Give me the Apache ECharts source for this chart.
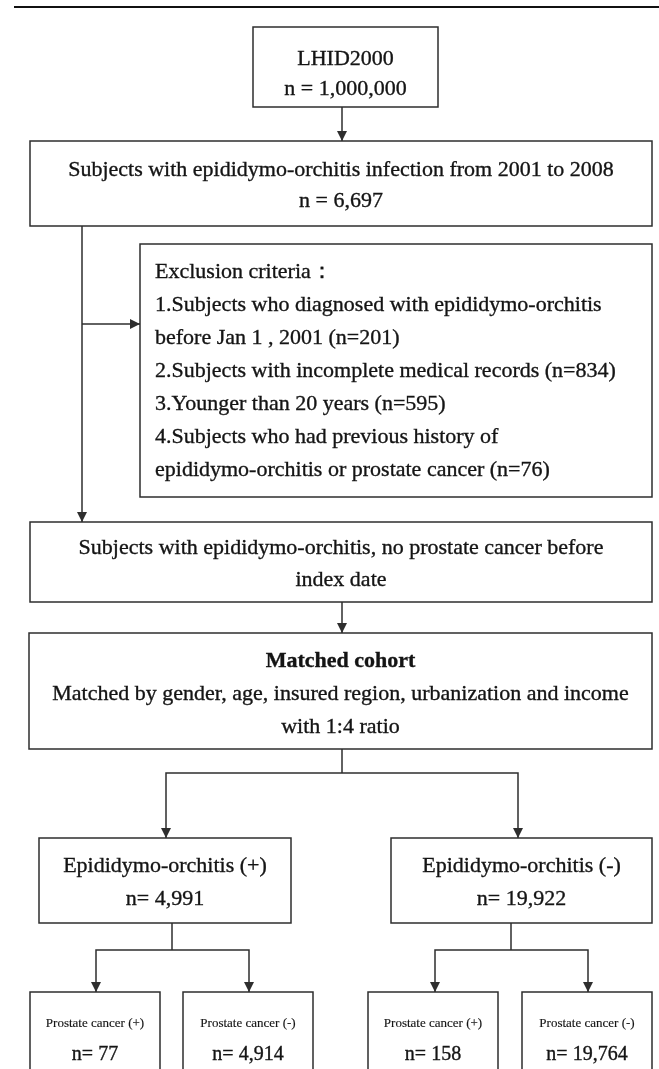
<!DOCTYPE html>
<html><head><meta charset="utf-8">
<script src="https://cdn.jsdelivr.net/npm/echarts@6/dist/echarts.min.js"></script>
<style>html,body{margin:0;padding:0;background:#fff}#c{width:659px;height:1069px}</style>
</head><body><div id="c"></div>
<script>
// ---------- data ----------
const sourceLabel = 'LHID2000';
const sourceCount = 1000000;
const eligibleLabel = 'Subjects with epididymo-orchitis infection from 2001 to 2008';
const eligibleCount = 6697;
const exclusionTitle = 'Exclusion criteria：';
const exclusionReasons = [
  ['1.Subjects who diagnosed with epididymo-orchitis', 'before Jan 1 , 2001'],
  ['2.Subjects with incomplete medical records'],
  ['3.Younger than 20 years'],
  ['4.Subjects who had previous history of', 'epididymo-orchitis or prostate cancer']
];
const exclusionCounts = [201, 834, 595, 76];
const cohortLines = ['Subjects with epididymo-orchitis, no prostate cancer before', 'index date'];
const matchedTitle = 'Matched cohort';
const matchedLines = ['Matched by gender, age, insured region, urbanization and income', 'with 1:4 ratio'];
const groupLabels = ['Epididymo-orchitis (+)', 'Epididymo-orchitis (-)'];
const groupCounts = [4991, 19922];
const outcomeLabels = ['Prostate cancer (+)', 'Prostate cancer (-)'];
const outcomeCounts = [77, 4914, 158, 19764];

// ---------- helpers ----------
const fmt = v => v.toLocaleString('en-US');
const exclusionText = [exclusionTitle];
exclusionReasons.forEach((r, i) => {
  r.forEach((t, j) => exclusionText.push(j === r.length - 1 ? t + ' (n=' + exclusionCounts[i] + ')' : t));
});

// ---------- layout (axis units = pixels) ----------
const F = '"Liberation Serif", "Times New Roman", serif';
const boxes = [
  {x0:253, y0:27, x1:438, y1:107, lines:[[sourceLabel,59,22],['n = ' + fmt(sourceCount),89,22]]},
  {x0:30, y0:141, x1:652, y1:226, lines:[[eligibleLabel,170,22],['n = ' + fmt(eligibleCount),201,22]]},
  {x0:140, y0:244, x1:652, y1:497, left:155, lines: exclusionText.map((t,i)=>[t, 272 + i*33, 22])},
  {x0:30, y0:522, x1:652, y1:602, lines:[[cohortLines[0],548,22],[cohortLines[1],580,22]]},
  {x0:29, y0:633, x1:652, y1:749, lines:[[matchedTitle,661,22,'bold'],[matchedLines[0],694,22],[matchedLines[1],727,22]]},
  {x0:39, y0:838, x1:291, y1:923, lines:[[groupLabels[0],866,22],['n= ' + fmt(groupCounts[0]),899,22]]},
  {x0:391, y0:838, x1:652, y1:923, lines:[[groupLabels[1],866,22],['n= ' + fmt(groupCounts[1]),899,22]]}
];
const smallX = [[30,160],[183,313],[368,498],[522,652]];
smallX.forEach((s, i) => {
  boxes.push({x0:s[0], y0:992, x1:s[1], y1:1080,
    lines:[[outcomeLabels[i % 2],1024,13],['n= ' + fmt(outcomeCounts[i]),1055,20]]});
});

const links = [
  {p:[[14,7],[659,7]], w:2, arrow:false, c:'#111'},
  {p:[[342,107],[342,141]], arrow:true},
  {p:[[82,226],[82,522]], arrow:true},
  {p:[[82,324],[140,324]], arrow:true},
  {p:[[342,602],[342,633]], arrow:true},
  {p:[[342,749],[342,773]]},
  {p:[[166,838],[166,773],[518,773],[518,838]], arrow:true, both:true},
  {p:[[172,923],[172,950]]},
  {p:[[96,992],[96,950],[249,950],[249,992]], arrow:true, both:true},
  {p:[[511,923],[511,950]]},
  {p:[[435,992],[435,950],[588,950],[588,992]], arrow:true, both:true}
];

const LINE = '#2e2e2e';
const TXT = '#141414';

function arrowHead(api, from, to) {
  const a = api.coord(from), b = api.coord(to);
  const dx = b[0]-a[0], dy = b[1]-a[1], L = Math.hypot(dx,dy);
  const ux = dx/L, uy = dy/L, len = 10, hw = 5;
  const bx = b[0]-ux*len, by = b[1]-uy*len;
  return {type:'polygon', shape:{points:[[b[0],b[1]],[bx-uy*hw,by+ux*hw],[bx+uy*hw,by-ux*hw]]},
    style:{fill:LINE}};
}

const chart = echarts.init(document.getElementById('c'), null, {renderer:'canvas'});
chart.setOption({
  animation:false,
  backgroundColor:'#fff',
  grid:{left:0,right:0,top:0,bottom:0},
  xAxis:{type:'value',min:0,max:659,show:false},
  yAxis:{type:'value',min:0,max:1069,inverse:true,show:false},
  series:[
    {
      type:'custom', clip:false,
      data: boxes.map((b,i)=>[b.x0,b.y0,i]),
      encode:{x:0,y:1},
      renderItem:(params, api) => {
        const b = boxes[api.value(2)];
        const p0 = api.coord([b.x0,b.y0]), p1 = api.coord([b.x1,b.y1]);
        const cx = api.coord([(b.x0+b.x1)/2, 0])[0];
        const children = [{type:'rect', shape:{x:p0[0],y:p0[1],width:p1[0]-p0[0],height:p1[1]-p0[1]},
          style:{fill:'#fff', stroke:LINE, lineWidth:1.5}}];
        b.lines.forEach(l => {
          const y = api.coord([0,l[1]])[1];
          const x = b.left != null ? api.coord([b.left,0])[0] : cx;
          children.push({type:'text', style:{text:l[0], x:x, y:y, fill:TXT,
            stroke:TXT, lineWidth: l[2] > 15 ? 0.35 : 0.15,
            font:(l[3]||'normal') + ' ' + l[2] + 'px ' + F,
            align: b.left != null ? 'left' : 'center', verticalAlign:'middle'}});
        });
        return {type:'group', children};
      }
    },
    {
      type:'custom', clip:false,
      data: links.map((l,i)=>[l.p[0][0], l.p[0][1], i]),
      encode:{x:0,y:1},
      renderItem:(params, api) => {
        const l = links[api.value(2)];
        const pts = l.p.map(q => api.coord(q));
        const children = [{type:'polyline', shape:{points:pts},
          style:{stroke:l.c||LINE, lineWidth:l.w||1.5, fill:null}}];
        if (l.arrow) {
          children.push(arrowHead(api, l.p[l.p.length-2], l.p[l.p.length-1]));
          if (l.both) children.push(arrowHead(api, l.p[1], l.p[0]));
        }
        return {type:'group', children};
      }
    }
  ]
});
</script></body></html>
